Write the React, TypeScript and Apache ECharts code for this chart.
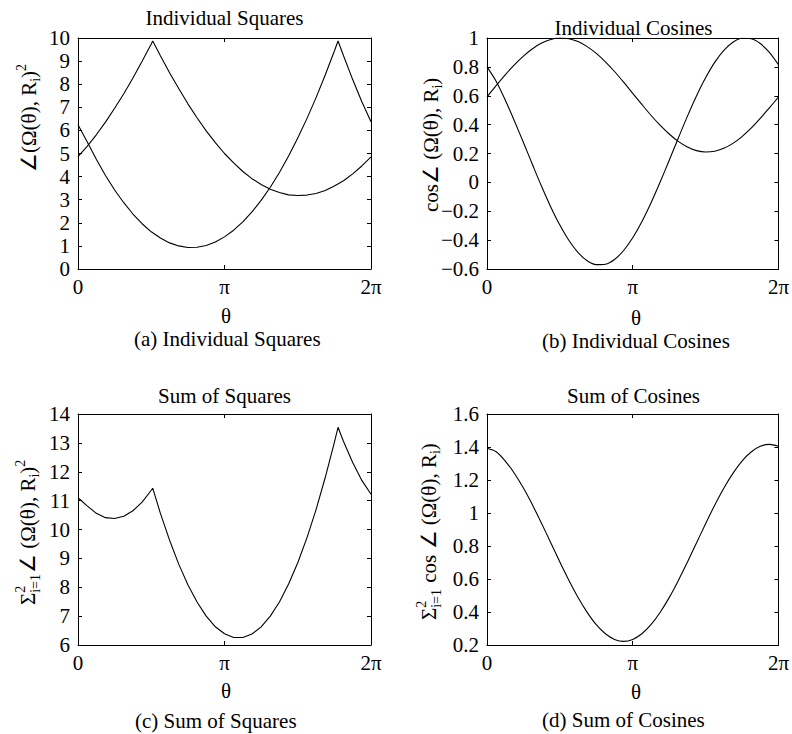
import React, { useEffect, useRef } from "react";
import * as echarts from "echarts";

// theta expressed in multiples of pi (0 .. 2)
const thetaGrid = [
  0, 0.0625, 0.125, 0.1875, 0.25, 0.3125, 0.375, 0.4375, 0.5, 0.5625, 0.625,
  0.6875, 0.75, 0.8125, 0.875, 0.9375, 1, 1.0625, 1.125, 1.1875, 1.25, 1.3125,
  1.375, 1.4375, 1.5, 1.5625, 1.625, 1.6875, 1.75, 1.8125, 1.875, 1.9375, 2,
];

// (b) Individual Cosines
const cosR1 = [
  0.592, 0.67, 0.745, 0.814, 0.875, 0.926, 0.965, 0.99, 1.0, 0.995, 0.975,
  0.94, 0.893, 0.835, 0.768, 0.694, 0.617, 0.54, 0.465, 0.396, 0.335, 0.284,
  0.245, 0.22, 0.21, 0.215, 0.236, 0.27, 0.317, 0.375, 0.443, 0.516, 0.59,
];
const cosR2 = [
  0.8, 0.701, 0.571, 0.427, 0.276, 0.122, -0.029, -0.17, -0.296, -0.403,
  -0.486, -0.543, -0.57, -0.567, -0.534, -0.472, -0.384, -0.273, -0.143, 0.001,
  0.152, 0.306, 0.457, 0.598, 0.724, 0.831, 0.914, 0.971, 0.998, 0.995, 0.962,
  0.9, 0.815,
];

// (d) Sum of Cosines
const cosSum = [
  1.392, 1.371, 1.315, 1.241, 1.151, 1.048, 0.936, 0.82, 0.703, 0.591, 0.488,
  0.398, 0.323, 0.268, 0.234, 0.222, 0.234, 0.268, 0.323, 0.397, 0.487, 0.59,
  0.702, 0.818, 0.935, 1.047, 1.15, 1.24, 1.315, 1.37, 1.404, 1.416, 1.405,
];

// (a) Individual Squares (kinks included)
const sqR1Theta = [
  0, 0.0625, 0.125, 0.1875, 0.25, 0.3125, 0.375, 0.4375, 0.5, 0.51, 0.5625,
  0.625, 0.6875, 0.75, 0.8125, 0.875, 0.9375, 1, 1.0625, 1.125, 1.1875, 1.25,
  1.3125, 1.375, 1.4375, 1.5, 1.5625, 1.625, 1.6875, 1.75, 1.8125, 1.875,
  1.9375, 2,
];
const sqR1 = [
  4.86, 5.31, 5.81, 6.36, 6.96, 7.59, 8.27, 8.99, 9.74, 9.87, 9.23, 8.5, 7.81,
  7.15, 6.55, 5.98, 5.47, 5.0, 4.59, 4.22, 3.91, 3.66, 3.45, 3.31, 3.21, 3.18,
  3.2, 3.27, 3.4, 3.59, 3.82, 4.12, 4.46, 4.85,
];
const sqR2Theta = [
  0, 0.0625, 0.125, 0.1875, 0.25, 0.3125, 0.375, 0.4375, 0.5, 0.5625, 0.625,
  0.6875, 0.75, 0.8125, 0.875, 0.9375, 1, 1.0625, 1.125, 1.1875, 1.25, 1.3125,
  1.375, 1.4375, 1.5, 1.5625, 1.625, 1.6875, 1.75, 1.775, 1.8125, 1.875,
  1.9375, 2,
];
const sqR2 = [
  6.24, 5.51, 4.75, 4.05, 3.42, 2.87, 2.38, 1.96, 1.61, 1.34, 1.13, 1.0, 0.93,
  0.94, 1.02, 1.17, 1.39, 1.68, 2.04, 2.47, 2.97, 3.54, 4.18, 4.89, 5.67, 6.51,
  7.42, 8.4, 9.44, 9.87, 9.23, 8.2, 7.24, 6.37,
];

// (c) Sum of Squares
const sqSumTheta = [
  0, 0.0625, 0.125, 0.1875, 0.25, 0.3125, 0.375, 0.4375, 0.5, 0.51, 0.5625,
  0.625, 0.6875, 0.75, 0.8125, 0.875, 0.9375, 1, 1.0625, 1.125, 1.1875, 1.25,
  1.3125, 1.375, 1.4375, 1.5, 1.5625, 1.625, 1.6875, 1.75, 1.775, 1.8125,
  1.875, 1.9375, 2,
];
const sqSum = [
  11.1, 10.82, 10.56, 10.41, 10.38, 10.46, 10.65, 10.95, 11.36, 11.43, 10.56,
  9.63, 8.8, 8.09, 7.49, 7.0, 6.63, 6.39, 6.26, 6.26, 6.38, 6.63, 7.0, 7.49,
  8.11, 8.85, 9.71, 10.69, 11.8, 13.02, 13.54, 13.05, 12.32, 11.7, 11.22,
];

const thetaTicks = ["0", "π", "2π"];

const FONT = '"Liberation Serif", "Times New Roman", serif';
const FS = 21;
const SMALL = 14;

const pairs = (xs: number[], ys: number[]) => xs.map((x, i) => [x, ys[i]]);

let measureCtx: CanvasRenderingContext2D | null = null;
function measure(t: string, size: number) {
  if (!measureCtx) measureCtx = document.createElement("canvas").getContext("2d");
  if (!measureCtx) return t.length * size * 0.5;
  measureCtx.font = `${size}px ${FONT}`;
  return measureCtx.measureText(t).width;
}

type Piece = { t: string; s?: "sub" | "sup" } | { stack: [string, string] };

function txt(t: string, x: number, y: number, size: number, align = "left") {
  return {
    type: "text",
    x,
    y,
    silent: true,
    style: {
      text: t,
      fontSize: size,
      fontFamily: FONT,
      fill: "#000",
      align,
      verticalAlign: "middle",
    },
  };
}

function yLabel(pieces: Piece[], cx: number, bottomY: number) {
  const children: any[] = [];
  let x = 0;
  for (const p of pieces) {
    if ("stack" in p) {
      const [sup, sub] = p.stack;
      children.push(txt(sup, x, -8, SMALL));
      children.push(txt(sub, x, 7, SMALL));
      x += Math.max(measure(sup, SMALL), measure(sub, SMALL)) + 1;
    } else {
      const size = p.s ? SMALL : FS;
      const dy = p.s === "sub" ? 6 : p.s === "sup" ? -8 : 0;
      children.push(txt(p.t, x, dy, size));
      x += measure(p.t, size);
    }
  }
  return { type: "group", x: cx, y: bottomY, rotation: Math.PI / 2, children };
}

const grids = [
  { left: 78, top: 38, width: 293, height: 231 },
  { left: 487, top: 38, width: 293, height: 231 },
  { left: 78, top: 414, width: 293, height: 231 },
  { left: 487, top: 414, width: 293, height: 231 },
];

const yRanges = [
  { min: 0, max: 10, interval: 1 },
  { min: -0.6, max: 1, interval: 0.2 },
  { min: 6, max: 14, interval: 1 },
  { min: 0.2, max: 1.6, interval: 0.2 },
];

const black = { color: "#000", width: 1 };

function buildOption() {
  const xAxis: any[] = [];
  const yAxis: any[] = [];
  grids.forEach((_, i) => {
    const common = {
      gridIndex: i,
      type: "value",
      min: 0,
      max: 2,
      interval: 1,
      splitLine: { show: false },
      axisLine: { show: true, onZero: false, lineStyle: black },
      axisTick: { show: true, inside: true, length: 4, lineStyle: black },
    };
    xAxis.push({
      ...common,
      position: "bottom",
      axisLabel: {
        color: "#000",
        fontFamily: FONT,
        fontSize: FS,
        margin: 7,
        formatter: (v: number) => thetaTicks[Math.round(v)] ?? "",
      },
    });
    xAxis.push({ ...common, position: "top", axisLabel: { show: false } });
    const yr = yRanges[i];
    const ycommon = {
      gridIndex: i,
      type: "value",
      min: yr.min,
      max: yr.max,
      interval: yr.interval,
      splitLine: { show: false },
      axisLine: { show: true, onZero: false, lineStyle: black },
      axisTick: { show: true, inside: true, length: 4, lineStyle: black },
    };
    yAxis.push({
      ...ycommon,
      position: "left",
      axisLabel: {
        color: "#000",
        fontFamily: FONT,
        fontSize: FS,
        margin: 8,
        formatter: (v: number) => String(Number(v.toFixed(2))).replace("-", "−"),
      },
    });
    yAxis.push({ ...ycommon, position: "right", axisLabel: { show: false } });
  });

  const line = (data: number[][], gi: number, smooth: boolean | number) => ({
    type: "line",
    xAxisIndex: gi * 2,
    yAxisIndex: gi * 2,
    data,
    showSymbol: false,
    symbol: "none",
    smooth,
    silent: true,
    lineStyle: { color: "#000", width: 1.1 },
  });

  const series = [
    line(pairs(sqR1Theta, sqR1), 0, false),
    line(pairs(sqR2Theta, sqR2), 0, false),
    line(pairs(thetaGrid, cosR1), 1, 0.3),
    line(pairs(thetaGrid, cosR2), 1, 0.3),
    line(pairs(sqSumTheta, sqSum), 2, false),
    line(pairs(thetaGrid, cosSum), 3, 0.3),
  ];

  const graphic: any[] = [
    txt("Individual Squares", 224.5, 18, FS, "center"),
    txt("Individual Cosines", 633.5, 28, FS, "center"),
    txt("Sum of Squares", 224.5, 396, FS, "center"),
    txt("Sum of Cosines", 633.5, 396, FS, "center"),
    txt("θ", 226, 316, FS, "center"),
    txt("θ", 636, 318, FS, "center"),
    txt("θ", 226, 691, FS, "center"),
    txt("θ", 636, 692, FS, "center"),
    txt("(a) Individual Squares", 134, 339, FS),
    txt("(b) Individual Cosines", 542, 341, FS),
    txt("(c) Sum of Squares", 135, 721, FS),
    txt("(d) Sum of Cosines", 542, 720, FS),
    yLabel(
      [{ t: "∠(Ω(θ), R" }, { t: "i", s: "sub" }, { t: ")" }, { t: "2", s: "sup" }],
      29,
      172
    ),
    yLabel([{ t: "cos∠ (Ω(θ), R" }, { t: "i", s: "sub" }, { t: ")" }], 431, 212),
    yLabel(
      [
        { t: "Σ" },
        { stack: ["2", "i=1"] },
        { t: "∠ (Ω(θ), R" },
        { t: "i", s: "sub" },
        { t: ")" },
        { t: "2", s: "sup" },
      ],
      28,
      605
    ),
    yLabel(
      [
        { t: "Σ" },
        { stack: ["2", "i=1"] },
        { t: " cos ∠ (Ω(θ), R" },
        { t: "i", s: "sub" },
        { t: ")" },
      ],
      429,
      620
    ),
  ];

  return {
    animation: false,
    backgroundColor: "#fff",
    grid: grids.map((g) => ({ ...g, containLabel: false })),
    xAxis,
    yAxis,
    series,
    graphic,
  };
}

export default function App() {
  const ref = useRef<HTMLDivElement>(null);
  useEffect(() => {
    if (!ref.current) return;
    const chart = echarts.init(ref.current, undefined, { renderer: "svg" });
    chart.setOption(buildOption() as any);
    return () => chart.dispose();
  }, []);
  return (
    <div
      ref={ref}
      style={{ position: "fixed", left: 0, top: 0, width: 792, height: 734, background: "#fff" }}
    />
  );
}
